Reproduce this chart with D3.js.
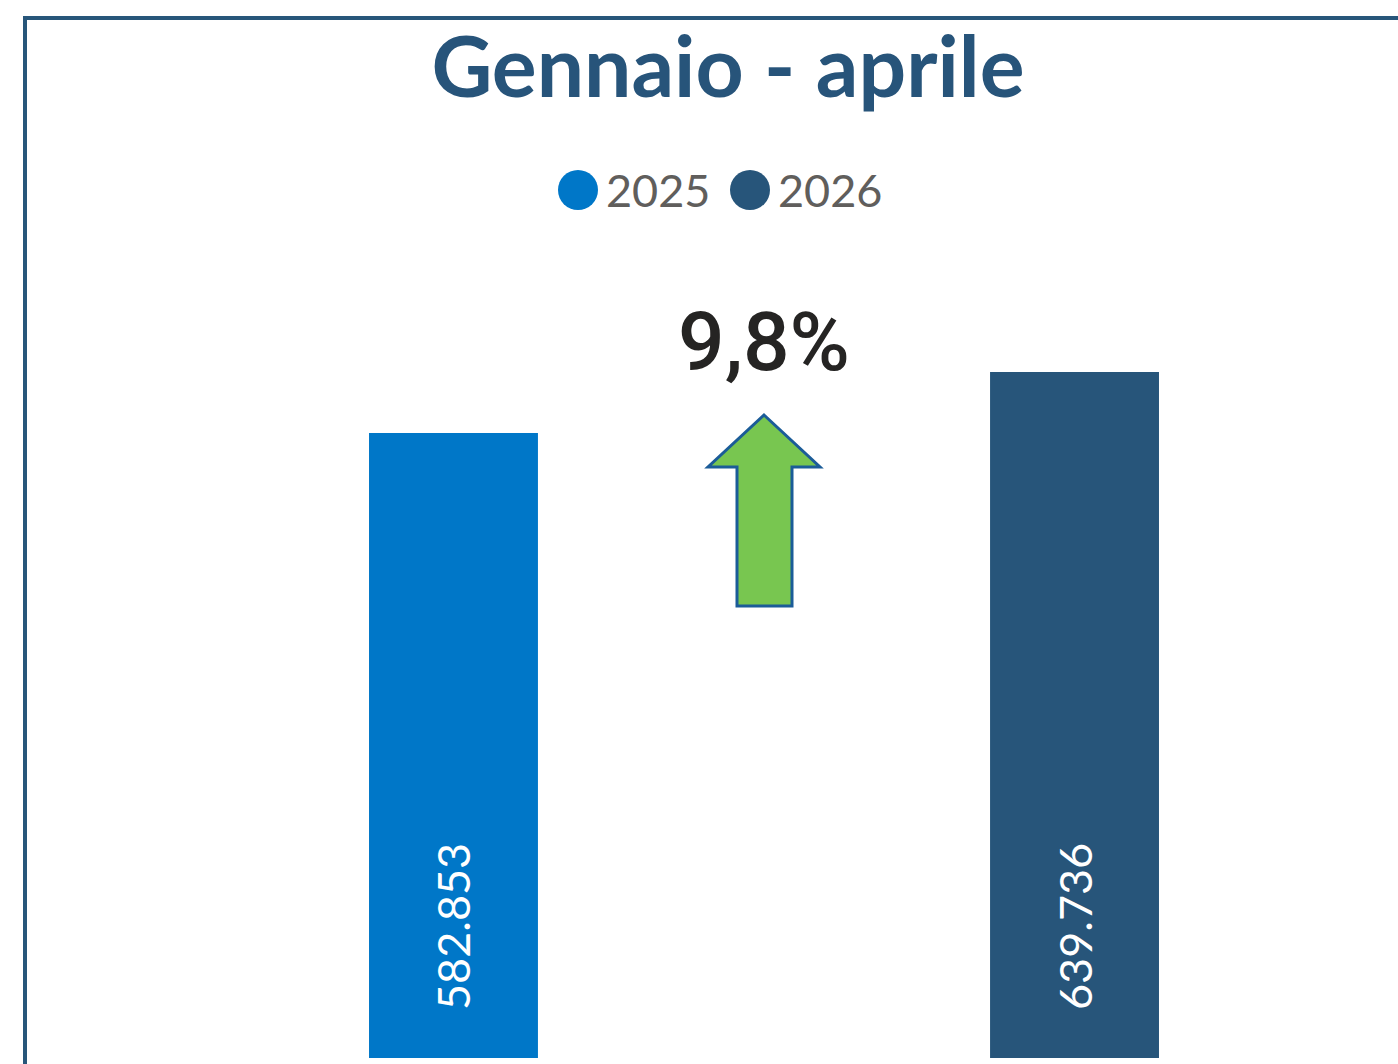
<!DOCTYPE html>
<html>
<head>
<meta charset="utf-8">
<script src="https://cdn.jsdelivr.net/npm/d3@7"></script>
<style>
  body { margin: 0; background: #fff; }
  svg { display: block; }
</style>
</head>
<body>
<div id="chart"></div>
<script>
// data
var years = ['2025', '2026'];
var values = [582853, 639736];
var colors = ['#0077c8', '#27557a'];
var title = 'Gennaio - aprile';

var width = 1398, height = 1064;
var border_color = '#27567a';

var svg = d3.select('#chart')
  .append('svg')
  .attr('width', width)
  .attr('height', height);

// panel border (top + left only, the rest is cut off)
svg.append('path')
  .attr('d', 'M25,' + height + 'V18H' + width)
  .style('fill', 'none')
  .style('stroke', border_color)
  .style('stroke-width', 4);

var x = d3.scaleBand()
  .domain(years)
  .range([58.5, 1469.5])
  .paddingInner(0.728)
  .paddingOuter(0.5);

var y = d3.scaleLinear()
  .domain([0, d3.max(values)])
  .range([1058, 372]);

// title
svg.append('text')
  .text(title)
  .attr('x', 728)
  .attr('y', 97)
  .style('font-family', 'Lato, "Open Sans", sans-serif')
  .style('font-weight', 700)
  .style('font-size', '84px')
  .style('fill', '#27547a')
  .style('text-anchor', 'middle');

// legend
var legend = svg.append('g');
var legend_x = [578, 750];
var leg = legend.selectAll('g')
  .data(years)
  .enter()
  .append('g')
  .attr('transform', function(d, i){
    return 'translate(' + legend_x[i] + ', 190)';
  });

leg.append('circle')
  .attr('r', 20)
  .style('fill', function(d, i){ return colors[i]; });

leg.append('text')
  .text(function(d){ return d; })
  .attr('x', 28)
  .attr('y', 17)
  .style('font-family', 'Lato, "Open Sans", sans-serif')
  .style('font-size', '45px')
  .style('fill', '#605e5c');

// bars
var bars = svg.append('g')
  .selectAll('g')
  .data(years)
  .enter()
  .append('g');

bars.append('rect')
  .attr('x', function(d){ return x(d); })
  .attr('y', function(d, i){ return y(values[i]); })
  .attr('width', x.bandwidth())
  .attr('height', function(d, i){ return y(0) - y(values[i]); })
  .style('fill', function(d, i){ return colors[i]; });

var fmt = d3.formatLocale({decimal: ',', thousands: '.', grouping: [3], currency: ['', '€']});

bars.append('text')
  .text(function(d, i){ return fmt.format(',d')(values[i]); })
  .attr('transform', function(d){
    var cx = x(d) + x.bandwidth() / 2 + 17;
    return 'translate(' + cx + ', ' + (y(0) - 48) + ') rotate(-90)';
  })
  .style('font-family', 'Lato, "Open Sans", sans-serif')
  .style('font-weight', 400)
  .style('font-size', '45px')
  .style('fill', '#fff');

// change annotation
var pct = (values[1] - values[0]) / values[0];
var mid_x = (x(years[0]) + x(years[1]) + x.bandwidth()) / 2;

svg.append('text')
  .text(fmt.format('.1%')(pct))
  .attr('x', mid_x)
  .attr('y', 370)
  .style('font-family', 'Roboto, "DejaVu Sans", sans-serif')
  .style('font-weight', 500)
  .style('font-size', '82px')
  .style('fill', '#252423')
  .style('text-anchor', 'middle');

// up arrow
var arrow = d3.path();
arrow.moveTo(mid_x, 415);
arrow.lineTo(mid_x + 56, 467);
arrow.lineTo(mid_x + 28, 467);
arrow.lineTo(mid_x + 28, 606);
arrow.lineTo(mid_x - 27, 606);
arrow.lineTo(mid_x - 27, 467);
arrow.lineTo(mid_x - 56, 467);
arrow.closePath();

svg.append('path')
  .attr('d', arrow.toString())
  .style('fill', '#78c650')
  .style('stroke', '#1b5c98')
  .style('stroke-width', 3);
</script>
</body>
</html>
